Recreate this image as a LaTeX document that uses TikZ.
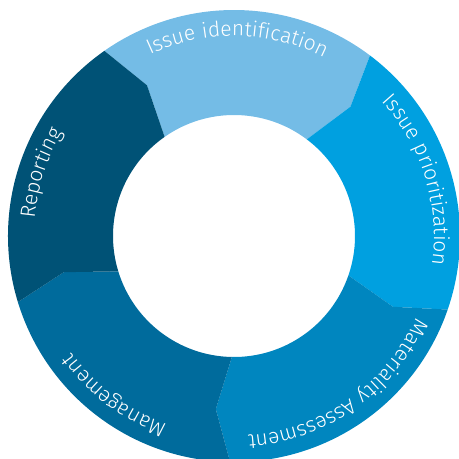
\documentclass[tikz,border=0pt]{standalone}
\usepackage{fontspec}
\newfontfamily\ringfont{Fira Sans}[UprightFont={* Light},LetterSpace=3.5]
\usetikzlibrary{decorations.text}
\definecolor{cId}{RGB}{116,188,230}
\definecolor{cPrio}{RGB}{0,160,224}
\definecolor{cMat}{RGB}{0,134,191}
\definecolor{cMgmt}{RGB}{0,107,156}
\definecolor{cRep}{RGB}{0,82,118}
\newcommand\lblfont{\ringfont\fontsize{21}{21}\selectfont\color{white}}
\newcommand\ringseg[2]{%
  \fill[#2] (#1:226pt) arc[start angle=#1, end angle=#1-72, radius=226pt]
    -- (#1-77:174pt) -- (#1-72:121pt)
    arc[start angle=#1-72, end angle=#1, radius=121pt]
    -- (#1-5:174pt) -- cycle;}
\newcommand\ringlabel[2]{%
  \path[decorate,decoration={text along path,text={|\lblfont|#2},text align=center}]
    (#1+70:200pt) arc[start angle=#1+70, end angle=#1-70, radius=200pt];}
\begin{document}
\begin{tikzpicture}[x=1pt,y=1pt]
\useasboundingbox (0,0) rectangle (459,459);
\begin{scope}[shift={(234,223)}]
\ringseg{125}{cId}
\ringseg{53}{cPrio}
\ringseg{-19}{cMat}
\ringseg{-91}{cMgmt}
\ringseg{-163}{cRep}
\ringlabel{89}{Issue identification}
\ringlabel{17}{Issue prioritization}
\ringlabel{-55}{Materiality Assessment}
\ringlabel{-127}{Management}
\ringlabel{162}{Reporting}
\end{scope}
\end{tikzpicture}
\end{document}
